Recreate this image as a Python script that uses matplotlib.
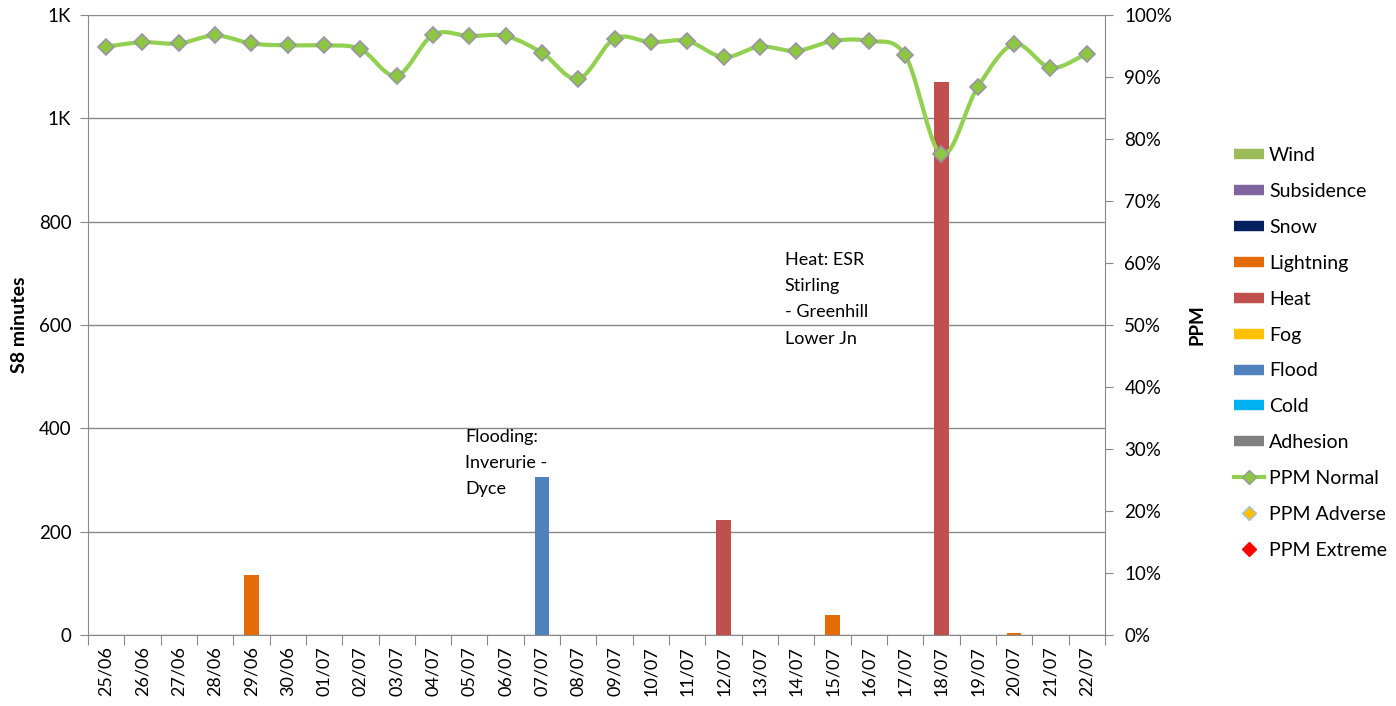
import numpy as np
import matplotlib
matplotlib.use("Agg")
import matplotlib.pyplot as plt
from matplotlib.lines import Line2D
from matplotlib.ticker import FuncFormatter, PercentFormatter, FixedLocator, NullFormatter

plt.rcParams["font.family"] = ["Lato", "DejaVu Sans"]

dates = ["25/06", "26/06", "27/06", "28/06", "29/06", "30/06", "01/07", "02/07",
         "03/07", "04/07", "05/07", "06/07", "07/07", "08/07", "09/07", "10/07",
         "11/07", "12/07", "13/07", "14/07", "15/07", "16/07", "17/07", "18/07",
         "19/07", "20/07", "21/07", "22/07"]

# S8 minutes by cause
wind = [0] * 28
subsidence = [0] * 28
snow = [0] * 28
lightning = [0, 0, 0, 0, 116, 0, 0, 0, 0, 0, 0, 0, 0, 0, 0, 0,
             0, 0, 0, 0, 39, 0, 0, 0, 0, 3, 0, 0]
heat = [0, 0, 0, 0, 0, 0, 0, 0, 0, 0, 0, 0, 0, 0, 0, 0,
        0, 223, 0, 0, 0, 0, 0, 1071, 0, 0, 0, 0]
fog = [0] * 28
flood = [0, 0, 0, 0, 0, 0, 0, 0, 0, 0, 0, 0, 305, 0, 0, 0,
         0, 0, 0, 0, 0, 0, 0, 0, 0, 0, 0, 0]
cold = [0] * 28
adhesion = [0] * 28

# PPM (%)
ppm_normal = [94.9, 95.6, 95.4, 96.7, 95.4, 95.1, 95.1, 94.5, 90.2, 96.8,
              96.6, 96.6, 93.9, 89.7, 96.2, 95.6, 95.8, 93.2, 94.9, 94.2,
              95.8, 95.8, 93.5, 77.5, 88.4, 95.3, 91.5, 93.7]

causes = ["Wind", "Subsidence", "Snow", "Lightning", "Heat", "Fog", "Flood", "Cold", "Adhesion"]
series = [wind, subsidence, snow, lightning, heat, fog, flood, cold, adhesion]
colors = ["#9BBB59", "#8064A2", "#002060", "#E36C09", "#C0504D",
          "#FFC000", "#4F81BD", "#00B0F0", "#808080"]

GRID = "#898989"


def smooth(x, y, n=24):
    # catmull-rom path through the points, like excel's smoothed line
    x = np.asarray(x, float)
    y = np.asarray(y, float)
    px = np.concatenate([[2 * x[0] - x[1]], x, [2 * x[-1] - x[-2]]])
    py = np.concatenate([[2 * y[0] - y[1]], y, [2 * y[-1] - y[-2]]])
    t = np.linspace(0, 1, n, endpoint=False)
    xs, ys = [], []
    for i in range(1, len(px) - 2):
        for p, out in ((px, xs), (py, ys)):
            p0, p1, p2, p3 = p[i - 1], p[i], p[i + 1], p[i + 2]
            out.extend(0.5 * (2 * p1 + (-p0 + p2) * t + (2 * p0 - 5 * p1 + 4 * p2 - p3) * t ** 2
                              + (-p0 + 3 * p1 - 3 * p2 + p3) * t ** 3))
    xs.append(x[-1])
    ys.append(y[-1])
    return np.array(xs), np.array(ys)


fig = plt.figure(figsize=(13.96, 7.06), dpi=100)
ax = fig.add_axes([0.063, 0.1006, 0.7285, 0.8782])
x = np.arange(len(dates))

bottom = np.zeros(len(dates))
for name, vals, c in zip(causes, series, colors):
    ax.bar(x, vals, width=0.4, bottom=bottom, color=c, zorder=3)
    bottom += np.array(vals)

ax.set_xlim(-0.5, len(dates) - 0.5)
ax.set_ylim(0, 1200)
ax.set_yticks(np.arange(0, 1201, 200))
ax.yaxis.set_major_formatter(FuncFormatter(lambda v, p: f"{v / 1000:.0f}K" if v >= 1000 else f"{v:.0f}"))
ax.grid(axis="y", color=GRID, lw=1, zorder=0)
ax.set_axisbelow(True)

ax.xaxis.set_major_locator(FixedLocator(np.arange(-0.5, len(dates), 1)))
ax.xaxis.set_major_formatter(NullFormatter())
ax.xaxis.set_minor_locator(FixedLocator(x))
ax.set_xticklabels(dates, minor=True, rotation=90, fontsize=13)
ax.tick_params(axis="x", which="major", length=7, color=GRID, direction="out")
ax.tick_params(axis="x", which="minor", length=0, pad=8)
ax.tick_params(axis="y", length=6, color=GRID, labelsize=13.5, pad=6)

for s in ["top", "right"]:
    ax.spines[s].set_visible(False)
for s in ["left", "bottom"]:
    ax.spines[s].set_color(GRID)
ax.set_ylabel("S8 minutes", fontsize=14, fontweight="bold", labelpad=8)

ax.text(9.88, 398, "Flooding:\nInverurie -\nDyce", fontsize=13, va="top", ha="left",
        linespacing=1.75)
ax.text(18.68, 742, "Heat: ESR\nStirling\n- Greenhill\nLower Jn", fontsize=13, va="top",
        ha="left", linespacing=1.8)

ax2 = ax.twinx()
ax2.set_ylim(0, 1)
ax2.set_yticks(np.arange(0, 1.01, 0.1))
ax2.yaxis.set_major_formatter(PercentFormatter(1.0, decimals=0))
ax2.tick_params(axis="y", length=6, color=GRID, labelsize=13.5, pad=8)
for s in ["top", "left", "bottom"]:
    ax2.spines[s].set_visible(False)
ax2.spines["right"].set_color(GRID)
ax2.set_ylabel("PPM", fontsize=13.5, fontweight="bold", labelpad=12)

ppm = np.array(ppm_normal) / 100
sx, sy = smooth(x, ppm)
ax2.plot(sx, sy, color="#92D050", lw=3, zorder=4)
ax2.plot(x, ppm, ls="none", marker="D", ms=8, mfc="#8DC63F", mec="#9A93A8", mew=1.2, zorder=5)

handles = [Line2D([], [], color=c, lw=7.5, solid_capstyle="butt") for c in colors]
handles.append(Line2D([], [], color="#92D050", lw=3, marker="D", ms=7, mfc="#8DC63F", mec="#9A93A8"))
handles.append(Line2D([], [], ls="none", marker="D", ms=7, mfc="#FFC000", mec="#9DC3E6"))
handles.append(Line2D([], [], ls="none", marker="D", ms=7, mfc="#FF0000", mec="#FF0000"))
labels = causes + ["PPM Normal", "PPM Adverse", "PPM Extreme"]
fig.legend(handles, labels, loc="center left", bbox_to_anchor=(0.884, 0.5), frameon=False,
           fontsize=14, handlelength=1.55, handletextpad=0.25, labelspacing=0.97, borderpad=0,
           borderaxespad=0)

fig.savefig("out.png", dpi=100)
